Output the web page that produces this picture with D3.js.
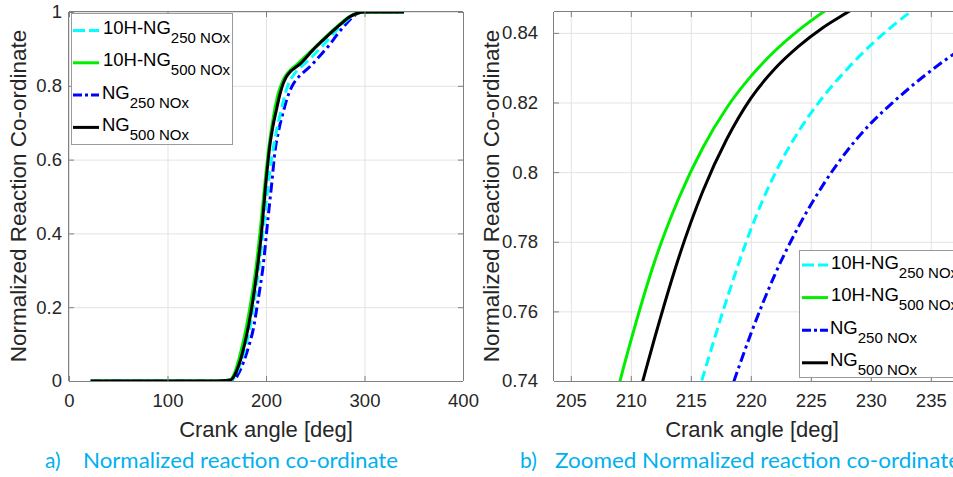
<!DOCTYPE html>
<html>
<head>
<meta charset="utf-8">
<script src="https://cdn.jsdelivr.net/npm/d3@7"></script>
<style>
  html, body { margin: 0; padding: 0; background: #fff; }
  svg { display: block; }
</style>
</head>
<body>
<svg id="chart" width="953" height="477"></svg>
<script>
// ---------------- DATA ----------------
const seriesMain = ["10H-NG", "10H-NG", "NG", "NG"];
const seriesSub = ["250 NOx", "500 NOx", "250 NOx", "500 NOx"];

// 10H-NG 250 NOx
const ang_h250 = [22, 150, 166, 170, 175, 180, 185, 190, 195, 200, 204, 208, 212, 215.9, 218, 220, 222, 224, 226, 228, 230, 232, 234, 236, 240, 250, 260, 270, 280, 288, 295, 302, 340];
const val_h250 = [0, 0, 0.004, 0.02, 0.055, 0.1, 0.165, 0.25, 0.355, 0.48, 0.57, 0.64, 0.695, 0.74, 0.7635, 0.7835, 0.7995, 0.8118, 0.8215, 0.8295, 0.8365, 0.8425, 0.8478, 0.8525, 0.8615, 0.8875, 0.916, 0.946, 0.973, 0.99, 0.998, 1, 1];

// 10H-NG 500 NOx
const ang_h500 = [22, 150, 163, 167, 171, 175, 180, 185, 190, 195, 200, 204, 207, 209.1, 210, 212, 214, 216, 218, 220, 222, 224, 226, 228, 232, 245, 258, 268, 278, 285, 292, 300, 340];
const val_h500 = [0, 0, 0.002, 0.015, 0.045, 0.085, 0.145, 0.22, 0.31, 0.43, 0.565, 0.655, 0.707, 0.74, 0.7515, 0.7745, 0.7925, 0.807, 0.8185, 0.8275, 0.8348, 0.8408, 0.8459, 0.8505, 0.8597, 0.892, 0.926, 0.951, 0.974, 0.988, 0.996, 0.999, 1];

// NG 250 NOx
const ang_n250 = [22, 150, 168, 172, 177, 182, 187, 192, 197, 202, 206, 209, 213, 218.6, 220, 222, 224, 226, 228, 230, 232, 234, 236, 238, 245, 255, 265, 272, 280, 287, 293, 300, 340];
const val_n250 = [0, 0, 0.004, 0.02, 0.05, 0.09, 0.14, 0.22, 0.31, 0.44, 0.54, 0.62, 0.68, 0.74, 0.7535, 0.7705, 0.7845, 0.7962, 0.806, 0.814, 0.8205, 0.8264, 0.8317, 0.8365, 0.853, 0.882, 0.913, 0.938, 0.964, 0.984, 0.996, 1, 1];

// NG 500 NOx
const ang_n500 = [22, 150, 164, 168, 172, 176, 180, 185, 190, 195, 200, 204, 207, 211, 212, 214, 216, 218, 220, 222, 224, 226, 228, 235, 248, 258, 268, 278, 285, 292, 300, 340];
const val_n500 = [0, 0, 0.003, 0.015, 0.04, 0.075, 0.12, 0.19, 0.28, 0.39, 0.54, 0.64, 0.69, 0.74, 0.7525, 0.7755, 0.7945, 0.8095, 0.8212, 0.8297, 0.8362, 0.8415, 0.8458, 0.86, 0.898, 0.924, 0.949, 0.972, 0.987, 0.996, 1, 1];

const xTicksA = [0, 100, 200, 300, 400];
const yTicksA = [0, 0.2, 0.4, 0.6, 0.8, 1];
const xTicksB = [205, 210, 215, 220, 225, 230, 235];
const yTicksB = [0.74, 0.76, 0.78, 0.8, 0.82, 0.84];

const captionA = ["a)", "Normalized reaction co-ordinate"];
const captionB = ["b)", "Zoomed Normalized reaction co-ordinate"];
const xTitle = "Crank angle [deg]";
const yTitle = "Normalized Reaction Co-ordinate";

// ---------------- STYLE ----------------
const styles = [
  { color: "#00FFFF", dash: "10,5" },
  { color: "#00EE00", dash: null },
  { color: "#0000FF", dash: "10,4,3,4" },
  { color: "#000000", dash: null }
];
const seriesData = [
  d3.zip(ang_h250, val_h250),
  d3.zip(ang_h500, val_h500),
  d3.zip(ang_n250, val_n250),
  d3.zip(ang_n500, val_n500)
];
const drawOrder = [2, 0, 1, 3];

const svg = d3.select("#chart");
const FONT = "'Liberation Sans', Arial, Helvetica, sans-serif";
const TXT = "#262626";
const AX = "#808080";
const GRID = "#e3e3e3";
const TICKFS = 18.5;

function panel(cfg) {
  const { x, y, xTicks, yTicks, yFmt, yPad, clipId, top, bottom, left, right, boxRight } = cfg;
  const g = svg.append("g");
  svg.append("defs").append("clipPath").attr("id", clipId)
    .append("rect").attr("x", left).attr("y", top).attr("width", right - left).attr("height", bottom - top);

  const gridX = g.append("g").attr("transform", `translate(0,${bottom})`)
    .call(d3.axisBottom(x).tickValues(xTicks).tickSize(-(bottom - top)).tickFormat(""));
  gridX.select(".domain").remove();
  gridX.selectAll("line").attr("stroke", GRID).attr("stroke-width", 1);
  const gridY = g.append("g").attr("transform", `translate(${left},0)`)
    .call(d3.axisLeft(y).tickValues(yTicks).tickSize(-(right - left)).tickFormat(""));
  gridY.select(".domain").remove();
  gridY.selectAll("line").attr("stroke", GRID).attr("stroke-width", 1);

  const line = d3.line().x(d => x(d[0])).y(d => y(d[1])).curve(d3.curveMonotoneX);
  const lg = g.append("g").attr("clip-path", `url(#${clipId})`);
  drawOrder.forEach(i => {
    lg.append("path").datum(seriesData[i])
      .attr("d", line)
      .attr("fill", "none")
      .attr("stroke", styles[i].color)
      .attr("stroke-width", 3)
      .attr("stroke-dasharray", styles[i].dash)
      .attr("stroke-linejoin", "round");
  });

  const ax = g.append("g").attr("transform", `translate(0,${bottom})`)
    .call(d3.axisBottom(x).tickValues(xTicks).tickSize(-5).tickSizeOuter(0).tickPadding(13));
  ax.select(".domain").attr("stroke", AX).attr("d", `M${left},0.5H${right}`);
  ax.selectAll("line").attr("stroke", AX);
  ax.selectAll("text").attr("font-family", FONT).attr("font-size", TICKFS).attr("fill", TXT);

  const ay = g.append("g").attr("transform", `translate(${left},0)`)
    .call(d3.axisLeft(y).tickValues(yTicks).tickSize(-5).tickSizeOuter(0).tickPadding(yPad).tickFormat(yFmt));
  ay.select(".domain").attr("stroke", AX).attr("d", `M-0.5,${top}V${bottom}`);
  ay.selectAll("line").attr("stroke", AX);
  ay.selectAll("text").attr("font-family", FONT).attr("font-size", TICKFS).attr("fill", TXT);

  const at = g.append("g").attr("transform", `translate(0,${top})`)
    .call(d3.axisTop(x).tickValues(xTicks).tickSize(-5).tickSizeOuter(0).tickFormat(""));
  at.select(".domain").attr("stroke", AX).attr("d", `M${left},-0.5H${right}`);
  at.selectAll("line").attr("stroke", AX);
  if (boxRight) {
    const ar = g.append("g").attr("transform", `translate(${right},0)`)
      .call(d3.axisRight(y).tickValues(yTicks).tickSize(-5).tickSizeOuter(0).tickFormat(""));
    ar.select(".domain").attr("stroke", AX).attr("d", `M0.5,${top}V${bottom}`);
    ar.selectAll("line").attr("stroke", AX);
  }
  return g;
}

// Panel a
const xA = d3.scaleLinear().domain([0, 400]).range([69, 463]);
const yA = d3.scaleLinear().domain([0, 1]).range([381, 12]);
panel({ x: xA, y: yA, xTicks: xTicksA, yTicks: yTicksA, yFmt: d3.format("~g"), yPad: 7,
  clipId: "clipA", top: 12, bottom: 381, left: 69, right: 463, boxRight: true });

// Panel b
const xB = d3.scaleLinear().domain([203.6, 237.5]).range([554, 960.8]);
const yB = d3.scaleLinear().domain([0.74, 0.846]).range([381, 12]);
panel({ x: xB, y: yB, xTicks: xTicksB, yTicks: yTicksB, yFmt: d3.format("~g"), yPad: 16,
  clipId: "clipB", top: 12, bottom: 381, left: 554, right: 953, boxRight: false });

// Axis titles
function titles(cx, ybase, yLabX) {
  svg.append("text").attr("x", cx).attr("y", ybase).attr("text-anchor", "middle")
    .attr("font-family", FONT).attr("font-size", 22).attr("fill", TXT).text(xTitle);
  svg.append("text").attr("transform", `translate(${yLabX},196) rotate(-90)`).attr("text-anchor", "middle")
    .attr("font-family", FONT).attr("font-size", 22.5).attr("fill", TXT).text(yTitle);
}
titles(266, 437, 26);
titles(752, 437, 499);

// Legends
function legend(x0, y0, w, h, rowY0, rowStep, lineX0, textX) {
  const lg = svg.append("g");
  lg.append("rect").attr("x", x0 + 0.5).attr("y", y0 + 0.5).attr("width", w).attr("height", h)
    .attr("fill", "#fff").attr("stroke", "#9a9a9a").attr("stroke-width", 1);
  seriesMain.forEach((name, i) => {
    const yy = rowY0 + i * rowStep;
    lg.append("line").attr("x1", lineX0).attr("x2", lineX0 + 26).attr("y1", yy).attr("y2", yy)
      .attr("stroke", styles[i].color).attr("stroke-width", 3)
      .attr("stroke-dasharray", styles[i].dash ? (i === 0 ? "12,4" : "9,3,3,3") : null);
    const t = lg.append("text").attr("x", textX - (name === "NG" ? 1 : 0)).attr("y", yy + 3.5)
      .attr("font-family", FONT).attr("font-size", 18.5).attr("fill", "#000");
    t.append("tspan").text(name);
    t.append("tspan").attr("dy", 9).attr("font-size", 15).text(seriesSub[i]);
  });
}
legend(71, 13, 161, 131, 30.5, 32.3, 73, 103);
legend(799, 250, 170, 127, 265, 32.6, 802, 831);

// Captions
const CAPF = "Lato, 'Open Sans', sans-serif";
const CAPC = "#00B0F0";
svg.append("text").attr("x", 45).attr("y", 468).attr("font-family", CAPF).attr("font-size", 21)
  .attr("fill", CAPC).text(captionA[0]);
svg.append("text").attr("x", 83).attr("y", 468).attr("font-family", CAPF).attr("font-size", 21)
  .attr("fill", CAPC).attr("textLength", 315).attr("lengthAdjust", "spacingAndGlyphs").text(captionA[1]);
svg.append("text").attr("x", 520).attr("y", 468).attr("font-family", CAPF).attr("font-size", 21)
  .attr("fill", CAPC).text(captionB[0]);
svg.append("text").attr("x", 555).attr("y", 468).attr("font-family", CAPF).attr("font-size", 21)
  .attr("fill", CAPC).attr("textLength", 405).attr("lengthAdjust", "spacingAndGlyphs").text(captionB[1]);
</script>
</body>
</html>
